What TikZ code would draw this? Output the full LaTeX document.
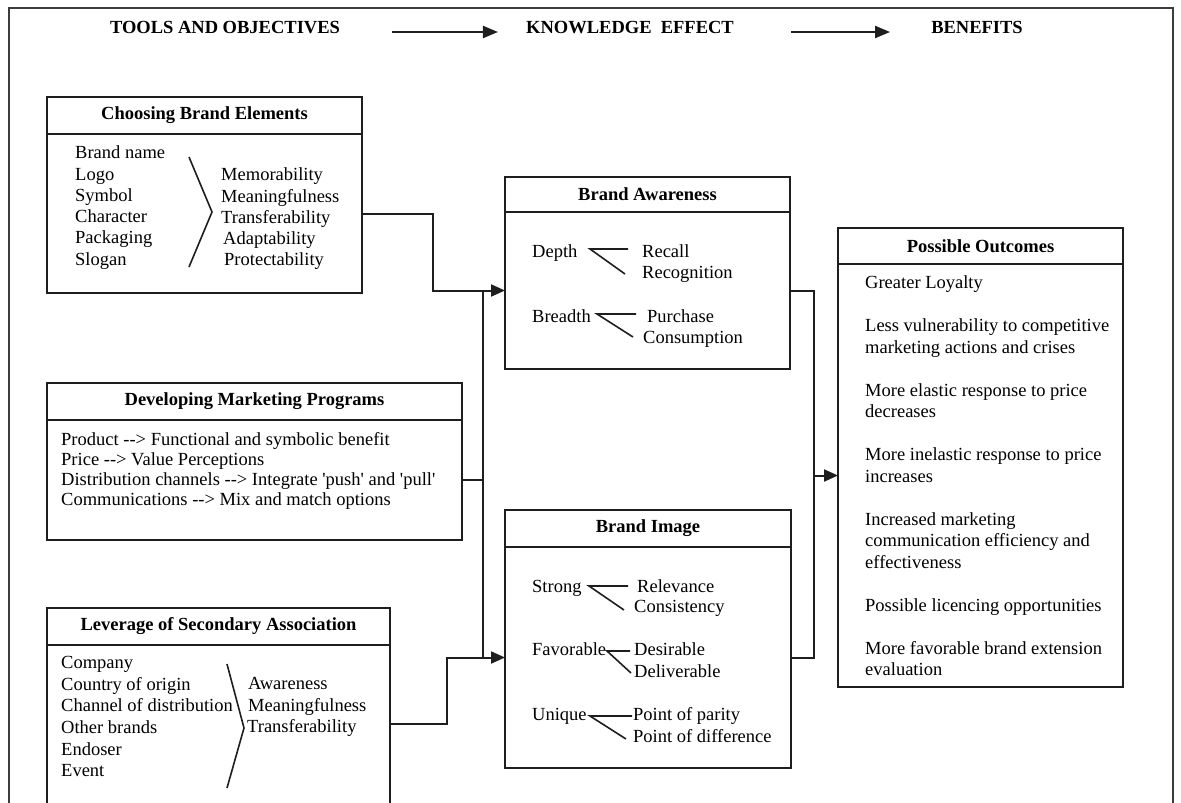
\documentclass[tikz,border=0pt]{standalone}
\usepackage{fontspec}
\setmainfont{Liberation Serif}
\usetikzlibrary{arrows.meta}
\usetikzlibrary{positioning}

\newcommand{\bodyfont}{\fontsize{18.5pt}{21.3pt}\selectfont}

\begin{document}
\begin{tikzpicture}[x=1pt,y=1pt,yscale=-1,xscale=1,
  titlebox/.style={draw={rgb,255:red,30;green,30;blue,30}, line width=1.9pt, outer sep=0pt, inner sep=0pt, minimum height=37pt, font=\bodyfont\bfseries},
  bodybox/.style={draw={rgb,255:red,30;green,30;blue,30}, line width=1.9pt, outer sep=0pt, inner sep=0pt},
  hdr/.style={anchor=base, inner sep=0pt, font=\bodyfont\bfseries},
  txt/.style={anchor=base west, inner sep=0pt, font=\bodyfont},
  lst/.style={anchor=north west, inner sep=0pt, align=left, font=\bodyfont},
  conn/.style={draw={rgb,255:red,30;green,30;blue,30}, line width=2pt},
  arr/.style={conn, -{Triangle[length=14pt,width=12pt]}},
  harr/.style={conn, -{Triangle[length=15pt,width=12pt]}},
  fork/.style={draw={rgb,255:red,30;green,30;blue,30}, line width=1.6pt}]
\useasboundingbox (0,0) rectangle (1181,803);

%Frame
\draw [color={rgb,255:red,60;green,60;blue,60}, line width=1.4pt] (9,803) -- (9,8) -- (1173,8) -- (1173,803);

% Header row
\node [hdr] (tools) at (225,34) {TOOLS AND OBJECTIVES};
\node [hdr] (know) at (630,34) {KNOWLEDGE\ \ EFFECT};
\node [hdr] (benef) at (977,34) {BENEFITS};
\draw [harr, shorten <=52pt, shorten >=28pt] ([yshift=-2pt]tools.base east) -- ([yshift=-2pt]know.base west);
\draw [harr, shorten <=57pt, shorten >=41pt] ([yshift=-2pt]know.base east) -- ([yshift=-2pt]benef.base west);

%Choosing Brand Elements
\node [titlebox, minimum width=315pt] (chooseT) at (204.5,115.5) {Choosing Brand Elements};
\node [bodybox, minimum width=315pt, minimum height=159pt, below=0pt of chooseT] (chooseB) {};
\node [lst] (chooseL) at (75,143.6) {\strut Brand name\\Logo\\Symbol\\Character\\Packaging\\Slogan};
\node [lst] (chooseR) at (221,165.6) {\strut Memorability\\Meaningfulness\\Transferability\\\hspace*{2pt}Adaptability\\\hspace*{3pt}Protectability};
\draw [fork] (189,157) -- (212,212) -- (189,267);

%Developing Marketing Programs
\node [titlebox, minimum width=415pt] (devT) at (254.5,401.5) {Developing Marketing Programs};
\node [bodybox, minimum width=415pt, minimum height=120pt, below=0pt of devT] (devB) {};
\node [lst, font=\fontsize{18.5pt}{20pt}\selectfont] (devL) at (61,431.5) {\strut Product -{}-> Functional and symbolic benefit\\Price -{}-> Value Perceptions\\Distribution channels -{}-> Integrate \textquotesingle push\textquotesingle{} and \textquotesingle pull\textquotesingle\\Communications -{}-> Mix and match options};

%Leverage of Secondary Association
\node [titlebox, minimum width=343pt] (levT) at (218.5,626.5) {Leverage of Secondary Association};
\node [bodybox, minimum width=343pt, minimum height=170pt, below=0pt of levT] (levB) {};
\node [lst, font=\fontsize{18.5pt}{21.6pt}\selectfont] (levL) at (61,653.4) {\strut Company\\Country of origin\\Channel of distribution\\Other brands\\Endoser\\Event};
\node [lst, font=\fontsize{18.5pt}{21.6pt}\selectfont] (levR) at (248,674.4) {\strut Awareness\\Meaningfulness\\\hspace*{-1pt}Transferability};
\draw [fork] (227,664) -- (244,728) -- (227,788);

%Brand Awareness
\node [titlebox, minimum width=285pt, minimum height=35pt] (awareT) at (647.5,194.5) {Brand Awareness};
\node [bodybox, minimum width=285pt, minimum height=157pt, below=0pt of awareT] (awareB) {};
\node [txt] (depth) at (532,257.5) {Depth};
\node [txt] (recall) at (642,257.5) {Recall};
\node [txt] (recog) at (642,278.5) {Recognition};
\node [txt] (breadth) at (532,322.5) {Breadth};
\node [txt] (purch) at (647,322.5) {Purchase};
\node [txt] (consum) at (643,343.5) {Consumption};
\draw [fork] (628,249) -- (590,249) -- (625,274);
\draw [fork] (636,314) -- (597,314) -- (633,337);

%Brand Image
\node [titlebox, minimum width=286pt] (imageT) at (648,528.5) {Brand Image};
\node [bodybox, minimum width=286pt, minimum height=221pt, below=0pt of imageT] (imageB) {};
\node [txt] (strong) at (532,592.5) {Strong};
\node [txt] (relev) at (637,592.5) {Relevance};
\node [txt] (consis) at (634,612.5) {Consistency};
\node [txt] (favor) at (532,655.5) {Favorable};
\node [txt] (desir) at (634,655.5) {Desirable};
\node [txt] (deliv) at (634,677.5) {Deliverable};
\node [txt] (unique) at (532,720.5) {Unique};
\node [txt] (parity) at (633,720.5) {Point of parity};
\node [txt] (differ) at (633,742.5) {Point of difference};
\draw [fork] (628,586) -- (589,586) -- (624,610);
\draw [fork] (630,651) -- (607,651) -- (631,673);
\draw [fork] (632,716) -- (590,716) -- (626,739);

%Possible Outcomes
\node [titlebox, minimum width=285pt, minimum height=36pt] (outT) at (980.5,246) {Possible Outcomes};
\node [bodybox, minimum width=285pt, minimum height=423pt, below=0pt of outT] (outB) {};
\node [lst, font=\fontsize{18.5pt}{21.5pt}\selectfont] (outL) at (865,273.5) {\strut Greater Loyalty\\[21.5pt]
Less vulnerability to competitive\\marketing actions and crises\\[21.5pt]
More elastic response to price\\decreases\\[21.5pt]
More inelastic response to price\\increases\\[21.5pt]
Increased marketing\\communication efficiency and\\effectiveness\\[21.5pt]
Possible licencing opportunities\\[21.5pt]
More favorable brand extension\\evaluation};

%Connectors
\draw [arr] (chooseB.east) -- (433,0 |- chooseB.east) |- (awareB.west);
\draw [conn] (devB.east) -- (483,0 |- devB.east);
\draw [conn] (483,0 |- awareB.west) -- (483,0 |- imageB.west);
\draw [arr] ([yshift=-6pt]levB.east) -| (447,0 |- imageB.west) -- (imageB.west);
\draw [conn] (awareB.east) -| (814,0 |- imageB.east) -- (imageB.east);
\draw [arr] (814,0 |- outB.west) -- (outB.west);

\end{tikzpicture}
\end{document}
